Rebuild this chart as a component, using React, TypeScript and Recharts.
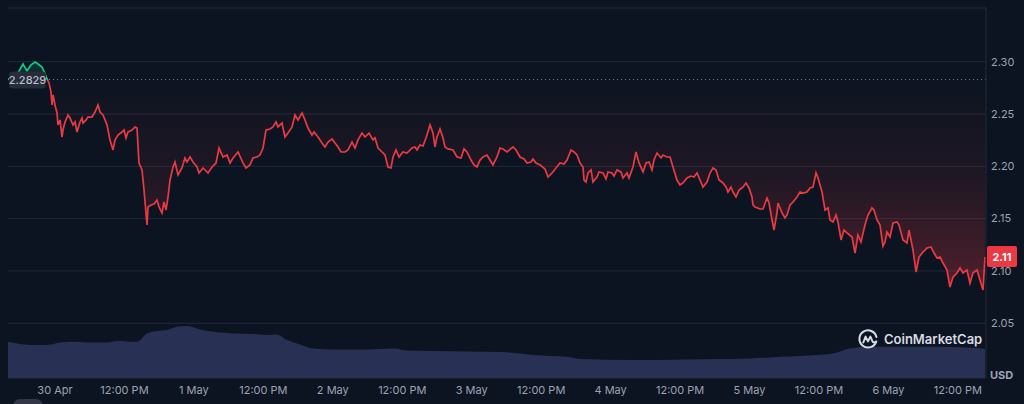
import React from 'react';
import { ComposedChart, Area, XAxis, YAxis, CartesianGrid, ReferenceLine } from 'recharts';

const BG = '#0d1421';
const GRID = '#222938';
const TEXT = '#9ca2b2';
const GREEN = '#16c784';
const RED = '#ea3943';
const VOL = '#283153';
const FONT = 'Inter, "Noto Sans", sans-serif';

// [hours since 29 Apr 00:00, price USD]
const pricePoints: [number, number][] = [
  [15.88, 2.2829], [16.92, 2.2863], [17.61, 2.2892], [18.47, 2.2978], [19.16, 2.2911], [19.86, 2.2969],
  [20.55, 2.2997], [21.07, 2.2978], [21.76, 2.2949], [22.27, 2.2883], [22.62, 2.2835], [22.97, 2.2797],
  [23.31, 2.271], [23.48, 2.2586], [23.66, 2.2682], [24.0, 2.2586], [24.35, 2.251], [24.52, 2.2395],
  [24.87, 2.2443], [25.21, 2.228], [25.38, 2.2347], [25.73, 2.2424], [26.25, 2.2491], [26.59, 2.2462],
  [27.11, 2.2395], [27.46, 2.2424], [27.8, 2.2328], [28.32, 2.2424], [28.67, 2.2462], [28.84, 2.2414],
  [29.36, 2.2443], [29.7, 2.2471], [30.39, 2.2471], [30.91, 2.2519], [31.43, 2.2586], [31.78, 2.2519],
  [32.3, 2.2491], [32.99, 2.2395], [33.5, 2.2252], [34.02, 2.2156], [34.37, 2.2252], [34.89, 2.2299],
  [35.58, 2.2328], [35.92, 2.2347], [36.27, 2.2271], [36.61, 2.2328], [37.31, 2.2347], [37.82, 2.2376],
  [38.17, 2.2366], [38.51, 2.2032], [39.03, 2.1965], [39.38, 2.1774], [39.9, 2.1439], [40.07, 2.1611],
  [40.59, 2.163], [41.11, 2.164], [41.62, 2.1678], [41.97, 2.1611], [42.49, 2.1554], [42.83, 2.1659],
  [43.18, 2.1582], [43.53, 2.1707], [43.87, 2.1869], [44.39, 2.1994], [44.73, 2.2041], [45.25, 2.1917],
  [45.94, 2.1984], [46.46, 2.208], [46.81, 2.2041], [47.33, 2.2089], [47.84, 2.2041], [48.54, 2.1994],
  [48.88, 2.1936], [49.57, 2.1984], [50.44, 2.1936], [51.13, 2.1994], [51.82, 2.2032], [52.34, 2.2175],
  [53.03, 2.2089], [53.72, 2.2108], [54.24, 2.2032], [54.76, 2.208], [55.62, 2.2137], [56.48, 2.2032],
  [57.0, 2.1984], [57.69, 2.2013], [58.21, 2.208], [58.9, 2.2089], [59.42, 2.2108], [59.94, 2.2175],
  [60.46, 2.2347], [61.15, 2.2357], [61.67, 2.2376], [62.18, 2.2424], [62.53, 2.2376], [63.22, 2.2414],
  [63.39, 2.2366], [63.74, 2.228], [64.26, 2.2318], [64.95, 2.2376], [65.47, 2.2491], [65.99, 2.2443],
  [66.68, 2.251], [67.19, 2.2443], [67.71, 2.2366], [68.4, 2.2299], [68.75, 2.2328], [69.44, 2.228],
  [70.13, 2.2223], [70.65, 2.2185], [71.17, 2.2232], [71.86, 2.2261], [72.38, 2.2223], [72.9, 2.2185],
  [73.41, 2.2137], [74.11, 2.2137], [74.62, 2.2156], [75.32, 2.2232], [75.83, 2.2175], [76.35, 2.2252],
  [77.04, 2.2318], [77.56, 2.228], [78.25, 2.2318], [78.94, 2.2252], [79.29, 2.2271], [79.81, 2.2175],
  [80.5, 2.2137], [81.02, 2.2108], [81.53, 2.1993], [82.05, 2.1984], [82.4, 2.2089], [82.92, 2.2156],
  [83.43, 2.2089], [84.13, 2.2137], [84.82, 2.2127], [85.68, 2.2175], [86.2, 2.2185], [86.54, 2.2156],
  [87.06, 2.2204], [87.58, 2.2194], [88.1, 2.2271], [88.79, 2.2395], [89.31, 2.2318], [89.65, 2.2185],
  [90.0, 2.228], [90.52, 2.2357], [91.04, 2.2271], [91.38, 2.2185], [91.9, 2.2166], [92.76, 2.2156],
  [93.46, 2.2089], [94.15, 2.2079], [94.67, 2.2166], [95.18, 2.2137], [95.87, 2.206], [96.39, 2.2013],
  [96.91, 2.1994], [97.43, 2.206], [97.95, 2.2089], [98.64, 2.2108], [99.16, 2.206], [99.67, 2.2013],
  [100.36, 2.2089], [100.89, 2.2175], [101.4, 2.2166], [102.1, 2.2137], [103.13, 2.2185], [103.65, 2.2156],
  [104.34, 2.2089], [105.03, 2.207], [105.55, 2.2032], [106.24, 2.2041], [106.59, 2.207], [107.1, 2.2032],
  [107.8, 2.2013], [108.66, 2.1974], [109.18, 2.1898], [109.87, 2.1936], [110.56, 2.1984], [111.25, 2.2032],
  [111.94, 2.2022], [112.46, 2.206], [113.15, 2.2156], [113.67, 2.2137], [114.19, 2.2108], [114.71, 2.2032],
  [115.22, 2.1994], [115.4, 2.1869], [115.74, 2.185], [116.09, 2.1936], [116.61, 2.1965], [116.95, 2.185],
  [117.64, 2.1898], [117.99, 2.1946], [118.68, 2.1936], [119.2, 2.1879], [119.54, 2.1946], [120.23, 2.1936],
  [120.58, 2.1907], [121.1, 2.1965], [121.79, 2.1946], [122.13, 2.1888], [122.83, 2.1936], [123.17, 2.1888],
  [123.86, 2.1994], [124.38, 2.2137], [124.9, 2.2032], [125.59, 2.1946], [126.11, 2.2032], [126.63, 2.2041],
  [127.15, 2.1965], [127.49, 2.206], [128.01, 2.2127], [128.7, 2.208], [129.05, 2.2108], [129.74, 2.2089],
  [130.26, 2.2089], [130.77, 2.1994], [131.46, 2.1869], [131.98, 2.1822], [132.5, 2.1841], [133.19, 2.1888],
  [133.88, 2.1907], [134.4, 2.1898], [134.92, 2.1936], [135.44, 2.1869], [135.96, 2.1802], [136.65, 2.185],
  [137.17, 2.1936], [137.68, 2.1984], [138.2, 2.1965], [138.72, 2.1869], [139.41, 2.1841], [139.93, 2.1802],
  [140.27, 2.1754], [140.79, 2.1802], [141.14, 2.1754], [141.66, 2.1707], [142.18, 2.1774], [142.87, 2.1802],
  [143.39, 2.1841], [143.91, 2.1793], [144.42, 2.1707], [144.6, 2.163], [144.94, 2.1611], [145.81, 2.1592],
  [146.32, 2.1592], [147.01, 2.1697], [147.36, 2.1649], [147.88, 2.1487], [148.22, 2.1391], [148.74, 2.1554],
  [148.91, 2.1649], [149.61, 2.1554], [150.12, 2.1506], [150.47, 2.1535], [150.99, 2.163], [151.51, 2.1659],
  [152.2, 2.1707], [152.72, 2.1754], [153.23, 2.1745], [153.92, 2.1754], [154.44, 2.1793], [154.96, 2.1802],
  [155.48, 2.1936], [155.83, 2.1888], [156.52, 2.1754], [157.04, 2.1582], [157.55, 2.1602], [157.9, 2.1487],
  [158.42, 2.1468], [158.93, 2.1535], [159.28, 2.1468], [159.8, 2.1296], [160.32, 2.1391], [160.83, 2.1363],
  [161.7, 2.1324], [162.22, 2.1171], [162.73, 2.1344], [163.25, 2.1277], [163.94, 2.1439], [164.46, 2.1535],
  [165.15, 2.1602], [165.5, 2.1582], [166.02, 2.1487], [166.54, 2.1439], [167.05, 2.1238], [167.4, 2.1277],
  [167.75, 2.1372], [168.27, 2.1324], [168.78, 2.1458], [169.47, 2.1468], [169.82, 2.1439], [170.51, 2.1296],
  [171.2, 2.1267], [171.55, 2.1391], [172.24, 2.12], [172.76, 2.099], [173.28, 2.1133], [173.97, 2.1181],
  [174.66, 2.1219], [175.35, 2.1229], [175.87, 2.1171], [176.39, 2.1124], [176.9, 2.1133], [177.42, 2.1076],
  [178.11, 2.1009], [178.63, 2.0846], [179.15, 2.0942], [179.84, 2.098], [180.36, 2.1028], [180.87, 2.098],
  [181.56, 2.1009], [182.08, 2.0884], [182.6, 2.098], [183.29, 2.1009], [183.81, 2.0913], [184.33, 2.0818],
  [184.68, 2.1133],
];

// [hours since 29 Apr 00:00, volume (M USD)]
const volumePoints: [number, number][] = [
  [15.88, 181], [17.96, 170], [20.2, 165], [22.79, 165], [24.87, 177], [26.94, 181], [29.53, 178],
  [32.99, 178], [34.71, 185], [38.17, 181], [39.9, 223], [41.62, 235], [43.35, 240], [45.08, 256],
  [46.81, 260], [49.05, 243], [51.3, 231], [54.76, 223], [58.21, 220], [60.63, 215], [62.36, 218],
  [64.08, 190], [66.33, 168], [68.58, 148], [72.03, 143], [77.91, 143], [82.4, 148], [85.33, 136],
  [89.31, 135], [95.18, 133], [100.89, 130], [104.34, 123], [106.59, 115], [112.46, 106], [114.71, 95],
  [123.86, 90], [132.5, 93], [138.37, 95], [144.08, 98], [149.78, 106], [155.65, 115], [158.42, 123],
  [161.35, 148], [164.29, 156], [170.0, 156], [175.7, 156], [181.57, 153], [184.68, 145],
];

const xTicks = [24, 36, 48, 60, 72, 84, 96, 108, 120, 132, 144, 156, 168, 180];
const xTickLabels = ['30 Apr', '12:00 PM', '1 May', '12:00 PM', '2 May', '12:00 PM', '3 May', '12:00 PM', '4 May', '12:00 PM', '5 May', '12:00 PM', '6 May', '12:00 PM'];
const yTicks = [2.05, 2.1, 2.15, 2.2, 2.25, 2.3];
const yTickLabels = ['2.05', '2.10', '2.15', '2.20', '2.25', '2.30'];
const openPrice = 2.2829;
const openLabel = '2.2829';
const lastLabel = '2.11';
const currencyLabel = 'USD';
const brandLabel = 'CoinMarketCap';
const xDomain: [number, number] = [15.88, 184.85];
const yDomain: [number, number] = [1.9977, 2.3513];
const volDomain: [number, number] = [0, 1850];

const priceData = pricePoints.map(([t, price]) => ({ t, price }));
const volumeData = volumePoints.map(([t, vol]) => ({ t, vol }));
const prices = pricePoints.map((p) => p[1]);
const pMax = Math.max(...prices);
const pMin = Math.min(...prices);
const lastPrice = prices[prices.length - 1];
const lineOff = (pMax - openPrice) / (pMax - pMin);
const fillTop = Math.max(pMax, openPrice);
const fillBot = Math.min(pMin, openPrice);
const fillOff = (fillTop - openPrice) / (fillTop - fillBot);
const fillMid = fillOff + (1 - fillOff) * 0.45;

const XTick = (props: any) => {
  const { x, y, payload } = props;
  const i = xTicks.indexOf(payload.value);
  return (
    <text x={x} y={y} dy="0.71em" textAnchor="middle" fill={TEXT} fontSize={11} fontFamily={FONT}>
      {i >= 0 ? xTickLabels[i] : ''}
    </text>
  );
};

const YTick = (props: any) => {
  const { x, y, payload } = props;
  const i = yTicks.findIndex((v) => Math.abs(v - payload.value) < 1e-9);
  return (
    <text x={x} y={y} dy="0.35em" textAnchor="start" fill={TEXT} fontSize={11} fontFamily={FONT}>
      {i >= 0 ? yTickLabels[i] : ''}
    </text>
  );
};

const OpenTag = (props: any) => {
  const vb = props.viewBox || {};
  const x = vb.x ?? 0;
  const y = vb.y ?? 0;
  return (
    <g>
      <rect x={x + 1} y={y - 8} width={37} height={17} rx={4} fill="#272c3a" />
      <text x={x + 19.5} y={y} dy="0.38em" textAnchor="middle" fill="#b9bfcc" fontSize={11} fontWeight={500} fontFamily={FONT}>
        {openLabel}
      </text>
    </g>
  );
};

const LastTag = (props: any) => {
  const vb = props.viewBox || {};
  const x = (vb.x ?? 0) + (vb.width ?? 0);
  const y = vb.y ?? 0;
  return (
    <g>
      <rect x={x + 1} y={y - 11} width={30} height={21} rx={2} fill={RED} />
      <text x={x + 16} y={y} dy="0.35em" textAnchor="middle" fill="#ffffff" fontSize={11} fontWeight={700} fontFamily={FONT}>
        {lastLabel}
      </text>
    </g>
  );
};

export default function App() {
  return (
    <div style={{ position: 'fixed', left: 0, top: 0, width: 1024, height: 404, background: BG, overflow: 'hidden' }}>
      <ComposedChart width={1024} height={404} margin={{ top: 8, right: 0, bottom: 0, left: 8 }}>
        <defs>
          <linearGradient id="lineGrad" x1="0" y1="0" x2="0" y2="1">
            <stop offset={lineOff} stopColor={GREEN} />
            <stop offset={lineOff} stopColor={RED} />
          </linearGradient>
          <linearGradient id="fillGrad" x1="0" y1="0" x2="0" y2="1">
            <stop offset={0} stopColor={GREEN} stopOpacity={0.22} />
            <stop offset={fillOff} stopColor={GREEN} stopOpacity={0.03} />
            <stop offset={fillOff} stopColor={RED} stopOpacity={0.0} />
            <stop offset={fillMid} stopColor={RED} stopOpacity={0.08} />
            <stop offset={1} stopColor={RED} stopOpacity={0.3} />
          </linearGradient>
        </defs>
        <CartesianGrid yAxisId="price" vertical={false} stroke={GRID} />
        <XAxis
          dataKey="t"
          type="number"
          domain={xDomain}
          ticks={xTicks}
          allowDataOverflow
          axisLine={false}
          tickLine={false}
          height={26}
          tick={XTick}
        />
        <XAxis
          xAxisId="top"
          orientation="top"
          dataKey="t"
          type="number"
          domain={xDomain}
          allowDataOverflow
          height={0}
          tick={false}
          tickLine={false}
          axisLine={{ stroke: GRID }}
        />
        <YAxis
          yAxisId="vol"
          orientation="left"
          width={0}
          domain={volDomain}
          allowDataOverflow
          tick={false}
          tickLine={false}
          axisLine={{ stroke: GRID }}
        />
        <YAxis
          yAxisId="price"
          orientation="right"
          width={38}
          domain={yDomain}
          ticks={yTicks}
          allowDataOverflow
          tickLine={false}
          tickSize={3}
          tickMargin={2}
          axisLine={{ stroke: GRID }}
          tick={YTick}
        />
        <Area
          yAxisId="vol"
          data={volumeData}
          dataKey="vol"
          type="monotone"
          stroke="none"
          fill={VOL}
          fillOpacity={1}
          isAnimationActive={false}
          dot={false}
          activeDot={false}
        />
        <Area
          yAxisId="price"
          data={priceData}
          dataKey="price"
          type="linear"
          baseValue={openPrice}
          stroke="url(#lineGrad)"
          strokeWidth={1.7}
          fill="url(#fillGrad)"
          fillOpacity={1}
          isAnimationActive={false}
          dot={false}
          activeDot={false}
        />
        <ReferenceLine yAxisId="price" y={openPrice} stroke="#7d8394" strokeDasharray="1 3" label={<OpenTag />} />
        <ReferenceLine yAxisId="price" y={lastPrice} stroke="none" label={<LastTag />} />
      </ComposedChart>
      <div style={{ position: 'absolute', left: 857, top: 328, width: 22, height: 22 }}>
        <svg width={22} height={22} viewBox="0 0 22 22">
          <path d="M19.2 13.6 A8.6 8.6 0 1 1 19.4 9" fill="none" stroke="#d8dbe2" strokeWidth={2} strokeLinecap="round" />
          <path d="M6.3 14.5 L8.6 8.6 L11 13.4 L13.4 8.6 L15.4 13.2 Q16.6 15.4 19.2 13.6" fill="none" stroke="#d8dbe2" strokeWidth={2} strokeLinejoin="round" strokeLinecap="round" />
        </svg>
      </div>
      <div style={{ position: 'absolute', left: 884, top: 330, height: 18, lineHeight: '18px', fontFamily: FONT, fontSize: 13, fontWeight: 600, color: '#d8dbe2', whiteSpace: 'nowrap' }}>
        {brandLabel}
      </div>
      <div style={{ position: 'absolute', left: 990, top: 367, height: 16, lineHeight: '16px', fontFamily: FONT, fontSize: 11, fontWeight: 700, color: TEXT }}>
        {currencyLabel}
      </div>
      <div style={{ position: 'absolute', left: 13, top: 399, width: 30, height: 14, borderRadius: 7, background: '#323646' }} />
    </div>
  );
}
